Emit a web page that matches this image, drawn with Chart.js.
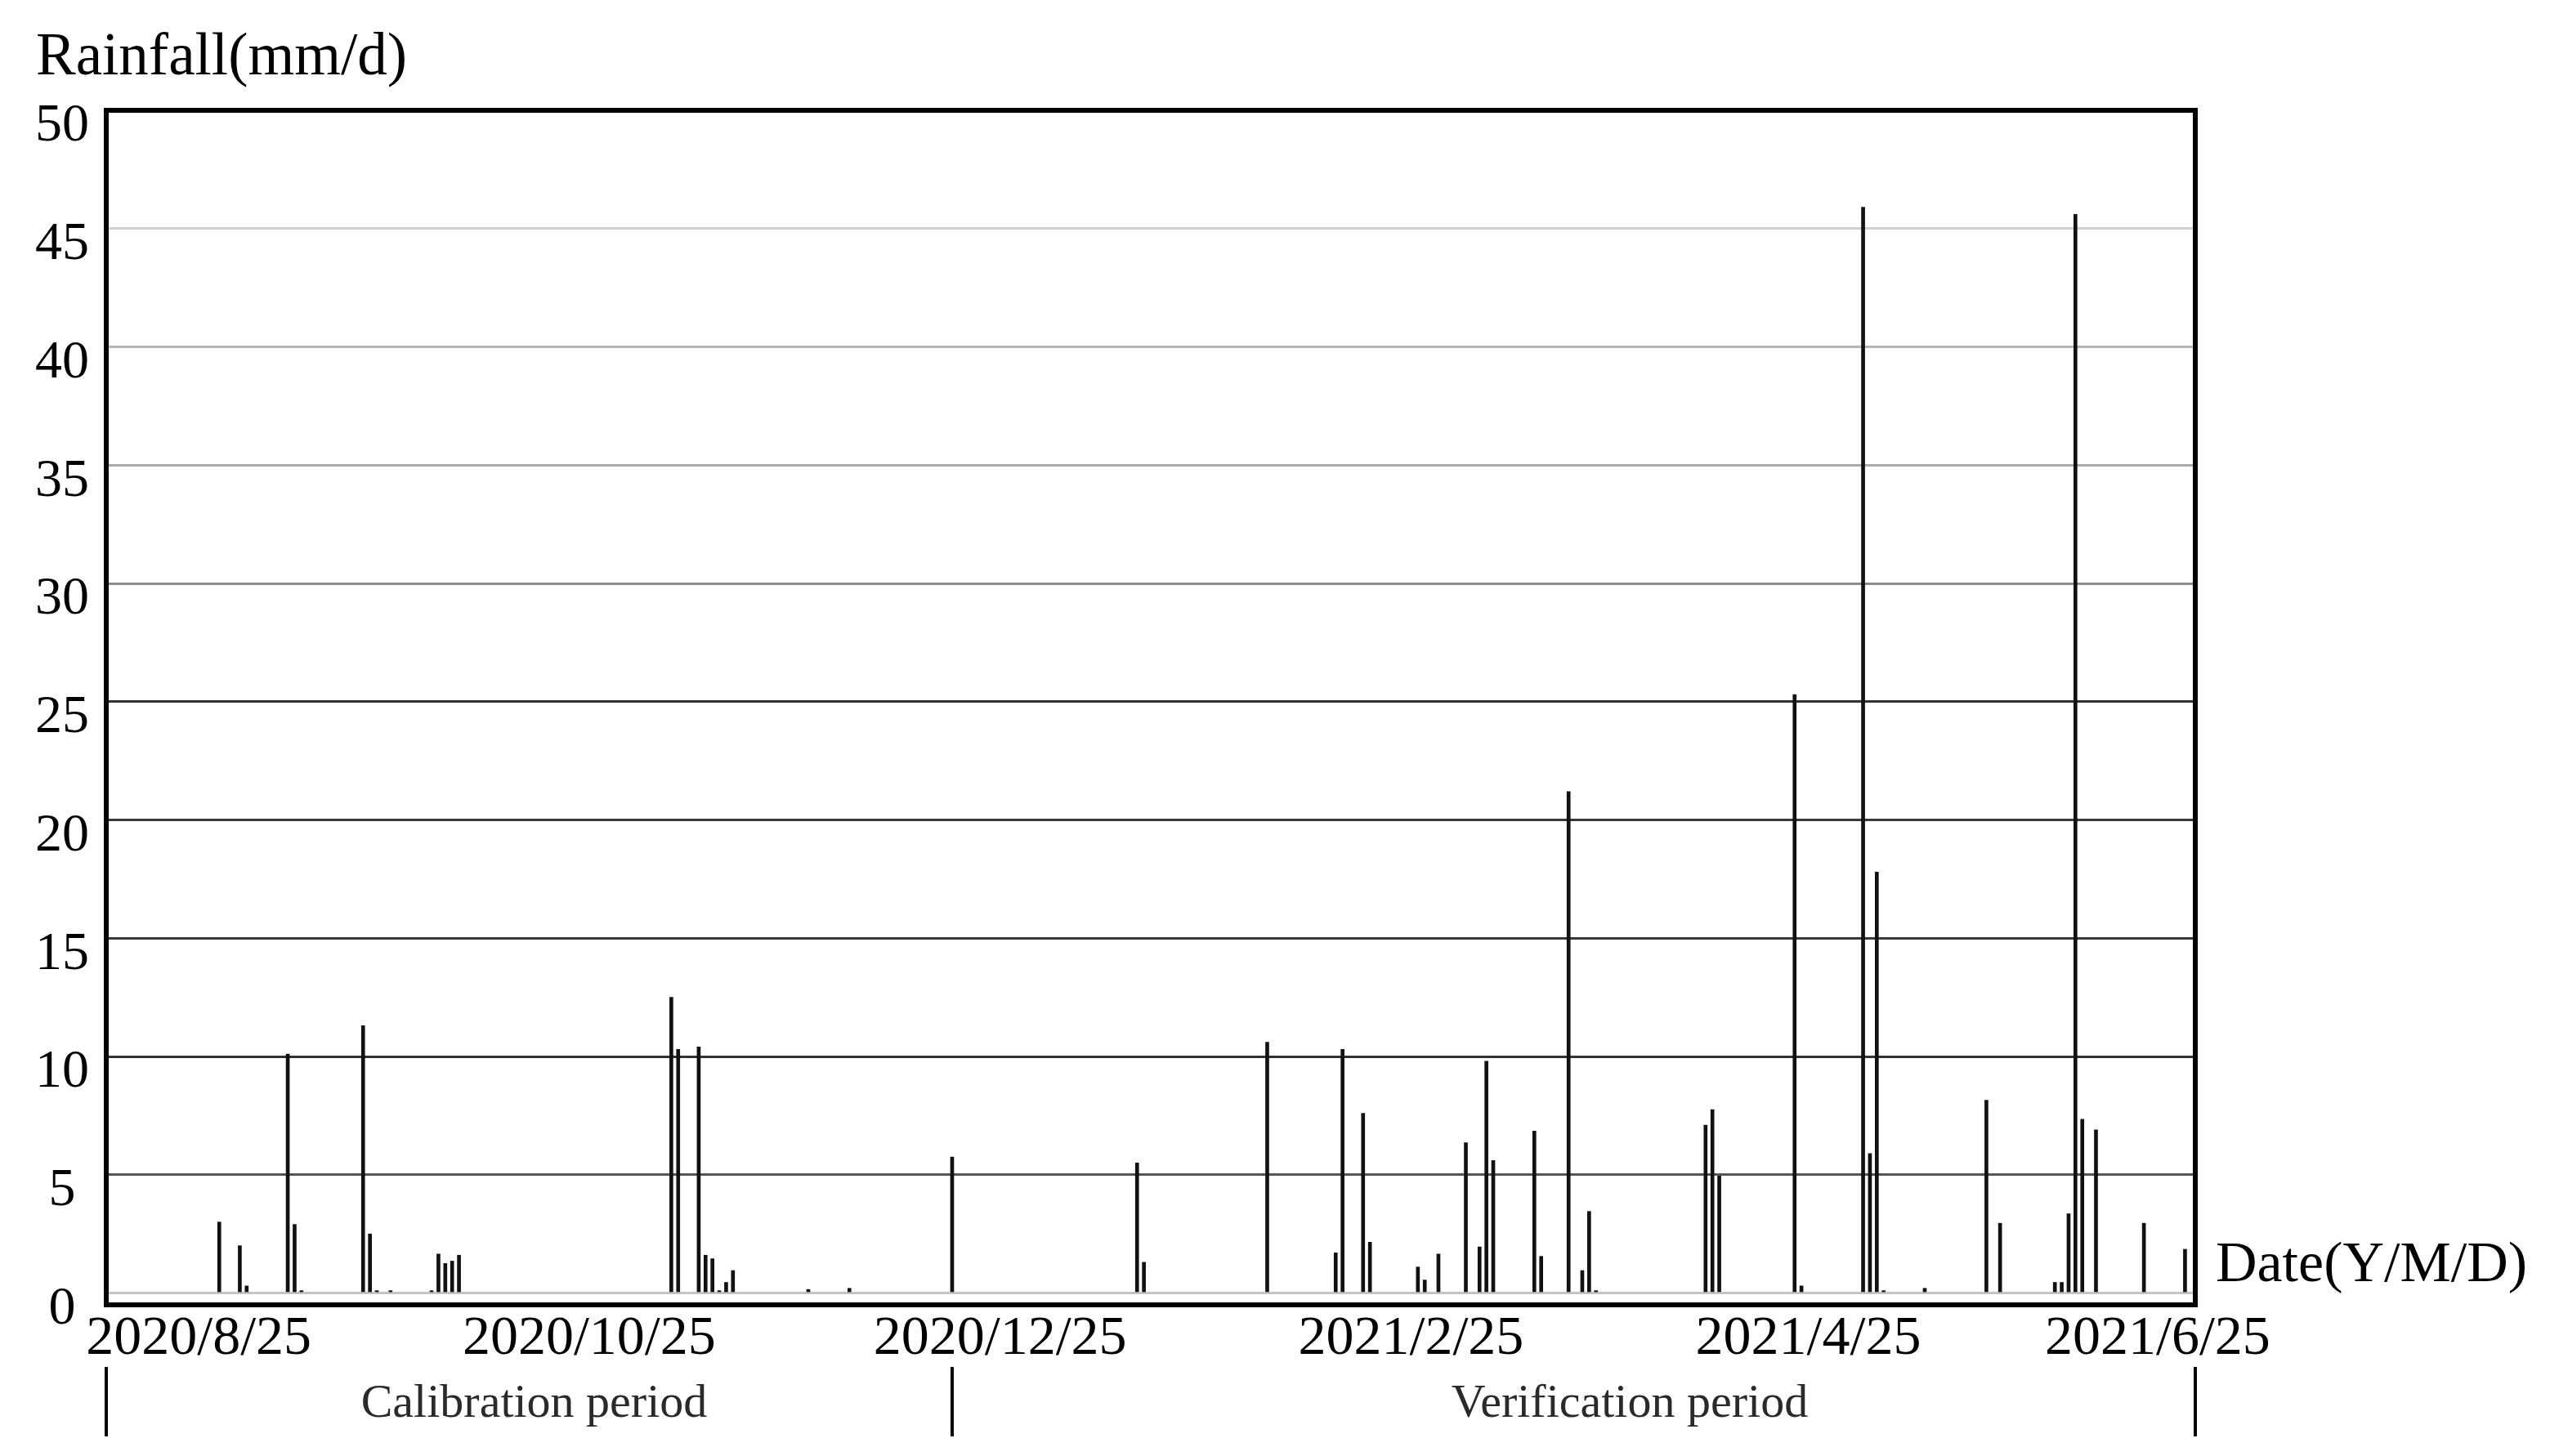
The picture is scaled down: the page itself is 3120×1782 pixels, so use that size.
<!DOCTYPE html>
<html>
<head>
<meta charset="utf-8">
<script src="https://cdn.jsdelivr.net/npm/chart.js@4/dist/chart.umd.min.js"></script>
<style>
html,body{margin:0;padding:0;background:#fff;}
#wrap{width:3120px;height:1782px;position:relative;}
</style>
</head>
<body>
<div id="wrap"><canvas id="c"></canvas></div>
<script>
// ---- data ----
const startDate = [2020, 8, 25];
const endDate = [2021, 6, 25];
const rainDates = [
  '2020/9/10','2020/9/13','2020/9/14','2020/9/20','2020/9/21','2020/9/22',
  '2020/10/1','2020/10/2','2020/10/3','2020/10/5','2020/10/11','2020/10/12','2020/10/13','2020/10/14','2020/10/15',
  '2020/11/15','2020/11/16','2020/11/19','2020/11/20','2020/11/21','2020/11/22','2020/11/23','2020/11/24',
  '2020/12/5','2020/12/11','2020/12/26',
  '2021/1/22','2021/1/23',
  '2021/2/10','2021/2/20','2021/2/21','2021/2/24','2021/2/25',
  '2021/3/4','2021/3/5','2021/3/7','2021/3/11','2021/3/13','2021/3/14','2021/3/15','2021/3/21','2021/3/22','2021/3/26','2021/3/28','2021/3/29','2021/3/30',
  '2021/4/15','2021/4/16','2021/4/17','2021/4/28','2021/4/29',
  '2021/5/8','2021/5/9','2021/5/10','2021/5/11','2021/5/17','2021/5/26','2021/5/28',
  '2021/6/5','2021/6/6','2021/6/7','2021/6/8','2021/6/9','2021/6/11','2021/6/18','2021/6/24'
];
const rainValues = [
  3.0, 2.0, 0.3, 10.1, 2.9, 0.1,
  11.3, 2.5, 0.1, 0.1, 0.1, 1.65, 1.25, 1.35, 1.6,
  12.5, 10.3, 10.4, 1.6, 1.45, 0.1, 0.45, 0.95,
  0.15, 0.2, 5.75,
  5.5, 1.3,
  10.6, 1.7, 10.3, 7.6, 2.15,
  1.1, 0.55, 1.65, 6.35, 1.95, 9.8, 5.6, 6.85, 1.55, 21.2, 0.95, 3.45, 0.1,
  7.1, 7.75, 4.95, 25.3, 0.3,
  45.9, 5.9, 17.8, 0.1, 0.2, 8.15, 2.95,
  0.45, 0.45, 3.35, 45.6, 7.35, 6.9, 2.95, 1.85
];
const xTickLabels = ['2020/8/25','2020/10/25','2020/12/25','2021/2/25','2021/4/25','2021/6/25'];
const periodLabels = ['Calibration period','Verification period'];
const periodBreakDate = '2020/12/26';
const yTitle = 'Rainfall(mm/d)';
const xTitle = 'Date(Y/M/D)';

// ---- build daily categories ----
function fmt(d){ return d.getUTCFullYear() + '/' + (d.getUTCMonth()+1) + '/' + d.getUTCDate(); }
const categories = [];
for (let t = Date.UTC(startDate[0], startDate[1]-1, startDate[2]);
     t <= Date.UTC(endDate[0], endDate[1]-1, endDate[2]); t += 86400000) {
  categories.push(fmt(new Date(t)));
}
const dailyRain = categories.map(c => { const k = rainDates.indexOf(c); return k >= 0 ? rainValues[k] : null; });

// ---- layout / style ----
const FONT = '"Liberation Serif", "Times New Roman", serif';
const xLabelSlots = [13, 70, 130, 190, 248, 299];
const gridShade = {0:'#c4c4c4',5:'#555555',10:'#333333',15:'#3a3a3a',20:'#3a3a3a',25:'#333333',
                   30:'#8c8c8c',35:'#ababab',40:'#b5b5b5',45:'#d0d0d0',50:'rgba(0,0,0,0)'};

const decorations = {
  id: 'decorations',
  afterDraw(chart) {
    const {ctx, chartArea: a, scales: {x}} = chart;
    ctx.save();
    ctx.strokeStyle = '#000';
    ctx.lineWidth = 6;
    ctx.strokeRect(a.left, a.top, a.right - a.left, a.bottom - a.top);
    const bx = x.getPixelForValue(categories.indexOf(periodBreakDate));
    ctx.lineWidth = 4;
    [a.left, bx, a.right].forEach(px => {
      ctx.beginPath(); ctx.moveTo(px, a.bottom + 76); ctx.lineTo(px, a.bottom + 161); ctx.stroke();
    });
    ctx.fillStyle = '#2a2a2a';
    ctx.font = '58px ' + FONT;
    ctx.textAlign = 'center';
    ctx.textBaseline = 'alphabetic';
    ctx.fillText(periodLabels[0], (a.left + bx) / 2 + 6, a.bottom + 137);
    ctx.fillText(periodLabels[1], bx + 0.545 * (a.right - bx), a.bottom + 137);
    ctx.fillStyle = '#000';
    ctx.font = '70px ' + FONT;
    ctx.textAlign = 'left';
    ctx.fillText(xTitle, a.right + 25, a.bottom - 29);
    ctx.restore();
  }
};

new Chart(document.getElementById('c'), {
  type: 'bar',
  data: {
    labels: categories,
    datasets: [{
      label: 'Rainfall',
      data: dailyRain,
      backgroundColor: '#111111',
      barThickness: 4
    }]
  },
  options: {
    responsive: true,
    maintainAspectRatio: false,
    devicePixelRatio: 1,
    animation: false,
    layout: { padding: { left: 44, right: 434, top: 0, bottom: 100 } },
    plugins: {
      legend: { display: false },
      tooltip: { enabled: false },
      title: {
        display: true, text: yTitle, align: 'start', color: '#000',
        font: { family: FONT, size: 73, weight: 'normal', lineHeight: 1 },
        padding: { top: 35, bottom: 27 }
      }
    },
    scales: {
      x: {
        type: 'category',
        offset: true,
        grid: { display: false },
        border: { display: false },
        ticks: {
          autoSkip: false, maxRotation: 0, minRotation: 0, padding: 0, color: '#000',
          font: { family: FONT, size: 68, lineHeight: 1 },
          callback: (v, i) => { const k = xLabelSlots.indexOf(i); return k >= 0 ? xTickLabels[k] : ''; }
        },
        afterFit: s => { s.height = 85; }
      },
      y: {
        min: -0.5, max: 50,
        border: { display: false },
        grid: { drawTicks: false, lineWidth: 3, color: c => gridShade[c.tick && c.tick.value] || '#999' },
        ticks: {
          stepSize: 5, includeBounds: false, padding: 21, crossAlign: 'center', labelOffset: 20,
          color: '#000', font: { family: FONT, size: 66, lineHeight: 1 }
        },
        afterFit: s => { s.width = 86; }
      }
    }
  },
  plugins: [decorations]
});
</script>
</body>
</html>
